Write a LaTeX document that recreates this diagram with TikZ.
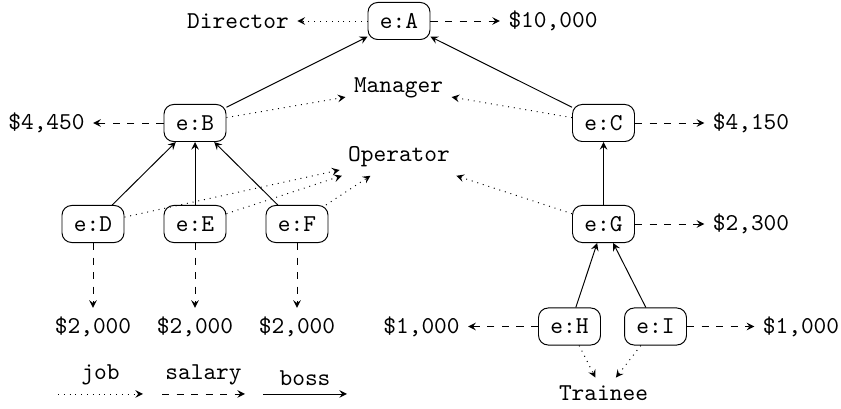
\documentclass[tikz,border=0pt]{standalone}
\tikzset{
  emp/.style={draw, rounded corners=4pt, font=\ttfamily, minimum width=25.6pt, minimum height=15.3pt, inner sep=2pt},
  lbl/.style={font=\ttfamily},
  jobarrow/.style={->, dotted},
  salarrow/.style={->, dashed},
  bossarrow/.style={->},
}
\begin{document}
\begin{tikzpicture}[x=0.413pt, y=-0.413pt, >=stealth]
\useasboundingbox (0,0) rectangle (841,409);
% employees
\node[emp] (A) at (399,21) {e:A};
\node[emp] (B) at (195,123) {e:B};
\node[emp] (C) at (603.5,123) {e:C};
\node[emp] (D) at (93,224) {e:D};
\node[emp] (E) at (195,224) {e:E};
\node[emp] (F) at (297,224) {e:F};
\node[emp] (G) at (603.5,224) {e:G};
\node[emp] (H) at (569.5,326.5) {e:H};
\node[emp] (I) at (655.5,326.5) {e:I};
% jobs
\node[lbl] (dir) at (238,21) {Director};
\node[lbl] (mgr) at (398.5,88) {Manager};
\node[lbl] (op) at (399,157) {Operator};
\node[lbl] (tr) at (603.5,393.6) {Trainee};
% salaries
\node[lbl] (sA) at (553,21) {\$10,000};
\node[lbl] (sB) at (46.5,123) {\$4,450};
\node[lbl] (sC) at (751,123) {\$4,150};
\node[lbl] (sG) at (751,224) {\$2,300};
\node[lbl] (sD) at (93,326.5) {\$2,000};
\node[lbl] (sE) at (195,326.5) {\$2,000};
\node[lbl] (sF) at (297,326.5) {\$2,000};
\node[lbl] (sH) at (421.5,326.5) {\$1,000};
\node[lbl] (sI) at (801,326.5) {\$1,000};
% boss
\draw[bossarrow] (B) -- (A);
\draw[bossarrow] (C) -- (A);
\draw[bossarrow] (D) -- (B);
\draw[bossarrow] (E) -- (B);
\draw[bossarrow] (F) -- (B);
\draw[bossarrow] (G) -- (C);
\draw[bossarrow] (H) -- (G);
\draw[bossarrow] (I) -- (G);
% job
\draw[jobarrow] (A) -- (dir);
\draw[jobarrow] (B) -- (mgr);
\draw[jobarrow] (C) -- (mgr);
\draw[jobarrow] (D) -- (op);
\draw[jobarrow] (E) -- (op);
\draw[jobarrow] (F) -- (op);
\draw[jobarrow] (G) -- (op);
\draw[jobarrow] (H) -- (tr);
\draw[jobarrow] (I) -- (tr);
% salary
\draw[salarrow] (A) -- (sA);
\draw[salarrow] (B) -- (sB);
\draw[salarrow] (C) -- (sC);
\draw[salarrow] (G) -- (sG);
\draw[salarrow] (D) -- (sD);
\draw[salarrow] (E) -- (sE);
\draw[salarrow] (F) -- (sF);
\draw[salarrow] (H) -- (sH);
\draw[salarrow] (I) -- (sI);
% legend
\coordinate (j1) at (58,394);
\coordinate (j2) at (143,394);
\coordinate (s1) at (162,394);
\coordinate (s2) at (245,394);
\coordinate (b1) at (263,394);
\coordinate (b2) at (347,394);
\draw[jobarrow] (j1) -- node[above, lbl] (lj) {job} (j2);
\draw[salarrow] (s1) -- node[above, lbl] (ls) {salary} (s2);
\draw[bossarrow] (b1) -- node[above, lbl] (lb) {boss} (b2);
\end{tikzpicture}
\end{document}
